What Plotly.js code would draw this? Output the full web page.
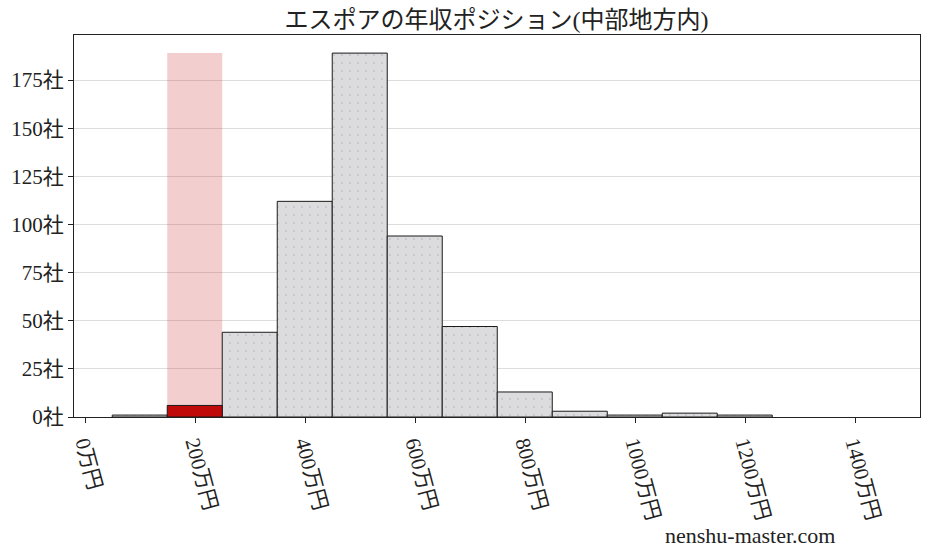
<!DOCTYPE html>
<html>
<head>
<meta charset="utf-8">
<script src="https://cdn.plot.ly/plotly-3.0.1.min.js"></script>
<style>body{margin:0;padding:0;background:#fff;}#chart{width:928px;height:557px;}</style>
</head>
<body>
<div id="chart"></div>
<script>
const binCenters = [99, 199, 299, 399, 499, 599, 699, 799, 899, 999, 1099, 1199];
const counts = [1, 6, 44, 112, 189, 94, 47, 13, 3, 1, 2, 1];
const highlightIndex = 1;
const xTickVals = [0, 200, 400, 600, 800, 1000, 1200, 1400];
const xTickText = ["0万円", "200万円", "400万円", "600万円", "800万円", "1000万円", "1200万円", "1400万円"];
const yTickVals = [0, 25, 50, 75, 100, 125, 150, 175];
const yTickText = ["0社", "25社", "50社", "75社", "100社", "125社", "150社", "175社"];
const titleText = "エスポアの年収ポジション(中部地方内)";
const watermark = "nenshu-master.com";

const FONT = "'Liberation Serif', 'DejaVu Serif', 'Noto Sans CJK JP', serif";
const maxCount = Math.max(...counts);

const greyX = binCenters.filter((_, i) => i !== highlightIndex);
const greyY = counts.filter((_, i) => i !== highlightIndex);

const traces = [
  {
    type: 'bar',
    x: [binCenters[highlightIndex]],
    y: [maxCount],
    width: 100,
    marker: {color: 'rgba(200,30,35,0.22)', line: {width: 0}},
    hoverinfo: 'skip'
  },
  {
    type: 'bar',
    x: greyX,
    y: greyY,
    width: 100,
    marker: {
      color: '#dcdcdf',
      line: {color: '#1a1a1a', width: 1},
      pattern: {shape: '.', fgcolor: '#c2c2c6', bgcolor: '#dcdcdf', size: 8, solidity: 0.05}
    }
  },
  {
    type: 'bar',
    x: [binCenters[highlightIndex]],
    y: [counts[highlightIndex]],
    width: 100,
    marker: {color: '#c00a0a', line: {color: '#1a1a1a', width: 1}}
  }
];

const layout = {
  width: 928, height: 557,
  margin: {l: 74, r: 8, t: 35, b: 140},
  paper_bgcolor: '#fff', plot_bgcolor: '#fff',
  showlegend: false,
  barmode: 'overlay',
  font: {family: FONT, color: '#222', size: 21},
  title: {text: titleText, x: 0.535, xanchor: 'center', y: 0.965, yanchor: 'middle', font: {family: FONT, size: 24, color: '#222'}},
  xaxis: {
    range: [-20.5, 1517.6],
    tickvals: xTickVals, ticktext: xTickText,
    tickangle: 75,
    ticks: 'outside', ticklen: 5, tickcolor: '#222',
    showgrid: false, zeroline: false,
    showline: true, linecolor: '#222', linewidth: 1, mirror: true,
    tickfont: {family: FONT, size: 21, color: '#222'}
  },
  yaxis: {
    range: [0, 198.4],
    tickvals: yTickVals, ticktext: yTickText,
    ticks: 'outside', ticklen: 5, tickcolor: '#222',
    showgrid: true, gridcolor: '#dddddd', gridwidth: 1,
    zeroline: false,
    showline: true, linecolor: '#222', linewidth: 1, mirror: true,
    tickfont: {family: FONT, size: 21, color: '#222'}
  },
  annotations: [{
    text: watermark, xref: 'paper', yref: 'paper',
    x: 0.799, y: -0.31, xanchor: 'center', yanchor: 'middle',
    showarrow: false, font: {family: FONT, size: 22, color: '#222'}
  }]
};

Plotly.newPlot('chart', traces, layout, {displayModeBar: false, staticPlot: true});
</script>
</body>
</html>
